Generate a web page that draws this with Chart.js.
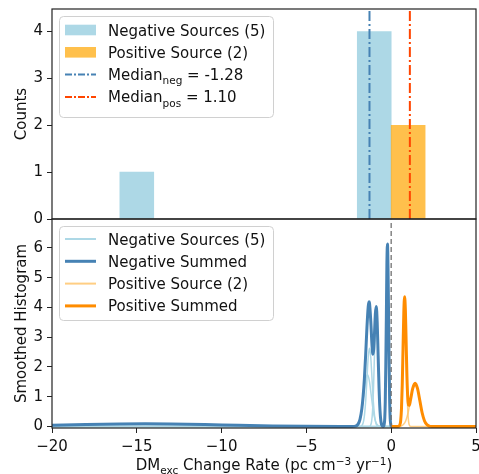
<!DOCTYPE html>
<html>
<head>
<meta charset="utf-8">
<script src="https://cdn.jsdelivr.net/npm/chart.js@4.4.1/dist/chart.umd.min.js"></script>
<style>
  html, body { margin: 0; padding: 0; background: #fff; }
  #wrap { position: relative; width: 479px; height: 474px; overflow: hidden; }
  canvas { position: absolute; left: 0; }
</style>
</head>
<body>
<div id="wrap">
  <canvas id="topPanel" width="479" height="228" style="top:0px"></canvas>
  <canvas id="bottomPanel" width="479" height="264" style="top:210px"></canvas>
</div>
<script>
// ---- histogram (top panel) ----
const negBinCenters = [-15, -1];
const negCounts = [1, 4];
const posBinCenters = [1];
const posCounts = [2];
const medianNeg = -1.28;
const medianPos = 1.10;

// ---- smoothed curves (bottom panel) ----
const negSrcAX = [-20, -18, -16, -14.5, -13, -11, -9, -7, -5, -3, -1, 0];
const negSrcAY = [0.041, 0.066, 0.085, 0.09, 0.085, 0.066, 0.041, 0.021, 0.009, 0.003, 0.001, 0];
const negSrcBX = [-20, -2.2, -2.06, -1.95, -1.84, -1.73, -1.62, -1.51, -1.40, -1.29, -1.18, -1.07, -0.96, -0.85, -0.74, -0.6, 0];
const negSrcBY = [0, 0, 0.02, 0.08, 0.24, 0.57, 1.06, 1.54, 1.75, 1.54, 1.06, 0.57, 0.24, 0.08, 0.02, 0, 0];
const negSrcCX = [-20, -1.85, -1.73, -1.655, -1.58, -1.505, -1.43, -1.355, -1.28, -1.205, -1.13, -1.055, -0.98, -0.905, -0.83, -0.7, 0];
const negSrcCY = [0, 0, 0.03, 0.12, 0.36, 0.85, 1.6, 2.32, 2.63, 2.32, 1.6, 0.85, 0.36, 0.12, 0.03, 0, 0];
const negSrcDX = [-20, -1.3, -1.21, -1.155, -1.10, -1.045, -0.99, -0.935, -0.88, -0.825, -0.77, -0.715, -0.66, -0.605, -0.55, -0.46, 0];
const negSrcDY = [0, 0, 0.04, 0.17, 0.52, 1.25, 2.34, 3.40, 3.85, 3.40, 2.34, 1.25, 0.52, 0.17, 0.04, 0, 0];
const negSrcEX = [-20, -0.48, -0.415, -0.38, -0.35, -0.32, -0.285, -0.255, -0.22, -0.19, -0.155, -0.12, -0.09, -0.06, -0.025, 0];
const negSrcEY = [0, 0, 0.07, 0.27, 0.83, 1.99, 3.72, 5.41, 6.13, 5.41, 3.72, 1.99, 0.83, 0.27, 0.07, 0];
const negSumX = [-20, -18, -16, -14.5, -13, -11, -9, -7, -5, -3, -2.3, -2.1, -1.95, -1.84, -1.73, -1.655, -1.58, -1.505, -1.43,
  -1.355, -1.31, -1.28, -1.205, -1.13, -1.08, -1.03, -0.99, -0.935, -0.88, -0.825, -0.77, -0.715, -0.66, -0.605, -0.55, -0.50,
  -0.45, -0.415, -0.38, -0.35, -0.32, -0.285, -0.255, -0.22, -0.19, -0.155, -0.12, -0.09, -0.06, -0.025, 0];
const negSumY = [0.041, 0.066, 0.085, 0.09, 0.085, 0.066, 0.041, 0.021, 0.009, 0.003, 0.002, 0.013, 0.08, 0.24, 0.60, 1.02, 1.61, 2.41, 3.33,
  4.03, 4.19, 4.15, 3.55, 2.71, 2.43, 2.61, 3.06, 3.78, 4.03, 3.49, 2.38, 1.27, 0.53, 0.17, 0.04, 0.01,
  0.014, 0.07, 0.27, 0.83, 1.99, 3.72, 5.41, 6.13, 5.41, 3.72, 1.99, 0.83, 0.27, 0.07, 0];
const posSrcAX = [0, 0.42, 0.514, 0.56, 0.606, 0.652, 0.698, 0.744, 0.79, 0.836, 0.882, 0.928, 0.974, 1.02, 1.066, 1.16, 5];
const posSrcAY = [0, 0, 0.05, 0.19, 0.58, 1.38, 2.58, 3.75, 4.25, 3.75, 2.58, 1.38, 0.58, 0.19, 0.05, 0, 0];
const posSrcBX = [0, 0.45, 0.59, 0.72, 0.86, 1.0, 1.135, 1.27, 1.41, 1.55, 1.685, 1.82, 1.96, 2.1, 2.235, 2.4, 5];
const posSrcBY = [0, 0.002, 0.016, 0.064, 0.196, 0.47, 0.88, 1.28, 1.45, 1.28, 0.88, 0.47, 0.196, 0.064, 0.016, 0.003, 0];
const posSumX = [0, 0.4, 0.514, 0.56, 0.606, 0.652, 0.698, 0.744, 0.79, 0.836, 0.882, 0.928, 0.974, 1.02, 1.066, 1.135,
  1.27, 1.41, 1.55, 1.685, 1.82, 1.96, 2.1, 2.235, 2.4, 5];
const posSumY = [0, 0.003, 0.06, 0.20, 0.60, 1.41, 2.63, 3.83, 4.36, 3.91, 2.81, 1.69, 0.99, 0.72, 0.71, 0.88,
  1.28, 1.45, 1.28, 0.88, 0.47, 0.196, 0.064, 0.016, 0.003, 0];

const xTicks = [-20, -15, -10, -5, 0, 5];
const topYTicks = [0, 1, 2, 3, 4];
const bottomYTicks = [0, 1, 2, 3, 4, 5, 6];

const X_MIN = -20, X_MAX = 5;
const TOP_MAX = 4.48;
const BOT_MIN = -0.05, BOT_MAX = 6.97;

const FONT = 'DejaVu Sans';
const FS = 15;
const TEXT = '#111';
const STEEL = '#4682b4';
const DARKORANGE = '#ff8c00';
const ORANGERED = '#ff4500';
const LIGHTBLUE = '#add8e6';
const BAR_ORANGE = 'rgba(255,165,0,0.7)';
const LIGHT_ORANGE = 'rgba(255,190,90,0.75)';

function pts(xs, ys) {
  return xs.map((x, i) => ({x: x, y: ys[i]}));
}

function minusSign(v) {
  return v < 0 ? '\u2212' + Math.abs(v) : '' + v;
}

// draws text pieces; mode 0 normal, 1 subscript, 2 superscript
function drawRich(ctx, parts, x, y, size, align) {
  const fontFor = m => (m ? size * 0.7 : size) + 'px "' + FONT + '"';
  let total = 0;
  parts.forEach(p => { ctx.font = fontFor(p[1]); total += ctx.measureText(p[0]).width; });
  if (align === 'center') x -= total / 2;
  ctx.textAlign = 'left';
  ctx.textBaseline = 'alphabetic';
  ctx.fillStyle = TEXT;
  parts.forEach(p => {
    ctx.font = fontFor(p[1]);
    let dy = 0;
    if (p[1] === 1) dy = size * 0.28;
    if (p[1] === 2) dy = -size * 0.36;
    ctx.fillText(p[0], x, y + dy);
    x += ctx.measureText(p[0]).width;
  });
}

const framePlugin = {
  id: 'frame',
  afterDraw(chart) {
    const a = chart.chartArea, ctx = chart.ctx;
    ctx.save();
    ctx.strokeStyle = '#222';
    ctx.lineWidth = 1.2;
    ctx.strokeRect(a.left, a.top, a.right - a.left, a.bottom - a.top);
    ctx.restore();
  }
};

function makeLegend(cfg) {
  return {
    id: 'richLegend',
    afterDraw(chart) {
      const ctx = chart.ctx, a = chart.chartArea;
      const bx = a.left + 7, by = a.top + 7;
      ctx.save();
      ctx.beginPath();
      ctx.roundRect(bx + 0.5, by + 0.5, cfg.w, cfg.h, 4);
      ctx.fillStyle = 'rgba(255,255,255,0.85)';
      ctx.fill();
      ctx.strokeStyle = '#d0d0d0';
      ctx.lineWidth = 1;
      ctx.stroke();
      cfg.rows.forEach((r, i) => {
        const cy = by + cfg.first + i * cfg.rowH;
        const sx = bx + 6, ex = bx + 37;
        if (r.kind === 'box') {
          ctx.fillStyle = r.color;
          ctx.fillRect(sx, cy - 5.3, ex - sx, 10.6);
        } else {
          ctx.strokeStyle = r.color;
          ctx.lineWidth = r.width;
          ctx.setLineDash(r.dash || []);
          ctx.beginPath();
          ctx.moveTo(sx, cy);
          ctx.lineTo(ex, cy);
          ctx.stroke();
          ctx.setLineDash([]);
        }
        drawRich(ctx, r.parts, bx + 49, cy + 5.5, FS, 'left');
      });
      ctx.restore();
    }
  };
}

const xTitlePlugin = {
  id: 'xTitle',
  afterDraw(chart) {
    const a = chart.chartArea;
    drawRich(chart.ctx, [['DM', 0], ['exc', 1], [' Change Rate (pc cm', 0], ['\u22123', 2], [' yr', 0], ['\u22121', 2], [')', 0]],
      (a.left + a.right) / 2, a.bottom + 42, FS, 'center');
  }
};

function yAxis(min, max, tickVals, title) {
  return {
    min: min, max: max,
    afterBuildTicks: s => { s.ticks = tickVals.map(v => ({value: v})); },
    afterFit: s => { s.width = 52; s.paddingTop = 0; s.paddingBottom = 0; },
    grid: {drawOnChartArea: false, tickLength: 5, color: '#222', lineWidth: 1},
    border: {display: false},
    ticks: {font: {family: FONT, size: FS}, color: TEXT, padding: 4},
    title: {display: true, text: title, font: {family: FONT, size: FS}, color: TEXT, padding: {top: 13, bottom: 0}}
  };
}

// ---- top panel ----
new Chart(document.getElementById('topPanel'), {
  type: 'bar',
  data: {
    datasets: [
      {type: 'line', data: pts([medianNeg, medianNeg], [0, TOP_MAX]), borderColor: STEEL, borderWidth: 2,
        borderDash: [10, 3, 2, 3], pointRadius: 0, order: 0},
      {type: 'line', data: pts([medianPos, medianPos], [0, TOP_MAX]), borderColor: ORANGERED, borderWidth: 2,
        borderDash: [10, 3, 2, 3], pointRadius: 0, order: 0},
      {label: 'Negative Sources (5)', data: pts(negBinCenters, negCounts), backgroundColor: LIGHTBLUE,
        grouped: false, barPercentage: 1, categoryPercentage: 1, order: 2},
      {label: 'Positive Source (2)', data: pts(posBinCenters, posCounts), backgroundColor: BAR_ORANGE,
        grouped: false, barPercentage: 1, categoryPercentage: 1, order: 1}
    ]
  },
  options: {
    responsive: false,
    animation: false,
    layout: {padding: {left: 0, right: 3, top: 9, bottom: 9}},
    plugins: {legend: {display: false}, tooltip: {enabled: false}},
    scales: {
      x: {type: 'linear', min: X_MIN, max: X_MAX, offset: false, display: false},
      y: yAxis(0, TOP_MAX, topYTicks, 'Counts')
    }
  },
  plugins: [framePlugin, makeLegend({
    w: 214, h: 101, first: 14, rowH: 22.3,
    rows: [
      {kind: 'box', color: LIGHTBLUE, parts: [['Negative Sources (5)', 0]]},
      {kind: 'box', color: BAR_ORANGE, parts: [['Positive Source (2)', 0]]},
      {kind: 'line', color: STEEL, width: 2, dash: [7, 2, 2, 2], parts: [['Median', 0], ['neg', 1], [' = -1.28', 0]]},
      {kind: 'line', color: ORANGERED, width: 2, dash: [7, 2, 2, 2], parts: [['Median', 0], ['pos', 1], [' = 1.10', 0]]}
    ]
  })]
});

// ---- bottom panel ----
function thin(xs, ys, color) {
  return {data: pts(xs, ys), borderColor: color, borderWidth: 1.5, pointRadius: 0,
    cubicInterpolationMode: 'monotone', order: 3};
}

new Chart(document.getElementById('bottomPanel'), {
  type: 'line',
  data: {
    datasets: [
      {data: pts([0, 0], [BOT_MIN, BOT_MAX]), borderColor: 'rgba(110,110,110,0.85)', borderWidth: 1.5,
        borderDash: [5, 3], pointRadius: 0, order: 0},
      thin(negSrcAX, negSrcAY, LIGHTBLUE),
      thin(negSrcBX, negSrcBY, LIGHTBLUE),
      thin(negSrcCX, negSrcCY, LIGHTBLUE),
      thin(negSrcDX, negSrcDY, LIGHTBLUE),
      thin(negSrcEX, negSrcEY, LIGHTBLUE),
      {data: pts(negSumX, negSumY), borderColor: STEEL, borderWidth: 3, pointRadius: 0,
        cubicInterpolationMode: 'monotone', order: 2},
      thin(posSrcAX, posSrcAY, LIGHT_ORANGE),
      thin(posSrcBX, posSrcBY, LIGHT_ORANGE),
      {data: pts(posSumX, posSumY), borderColor: DARKORANGE, borderWidth: 3, pointRadius: 0,
        cubicInterpolationMode: 'monotone', order: 1}
    ]
  },
  options: {
    responsive: false,
    animation: false,
    layout: {padding: {left: 0, right: 3, top: 9, bottom: 0}},
    plugins: {legend: {display: false}, tooltip: {enabled: false}},
    scales: {
      x: {
        type: 'linear', min: X_MIN, max: X_MAX,
        afterBuildTicks: s => { s.ticks = xTicks.map(v => ({value: v})); },
        afterFit: s => { s.height = 46; s.paddingLeft = 0; s.paddingRight = 0; },
        grid: {drawOnChartArea: false, tickLength: 5, color: '#222', lineWidth: 1},
        border: {display: false},
        ticks: {font: {family: FONT, size: FS}, color: TEXT, padding: 5, maxRotation: 0,
          callback: v => minusSign(v)}
      },
      y: yAxis(BOT_MIN, BOT_MAX, bottomYTicks, 'Smoothed Histogram')
    }
  },
  plugins: [framePlugin, xTitlePlugin, makeLegend({
    w: 214, h: 94, first: 13, rowH: 22.3,
    rows: [
      {kind: 'line', color: LIGHTBLUE, width: 2, parts: [['Negative Sources (5)', 0]]},
      {kind: 'line', color: STEEL, width: 3, parts: [['Negative Summed', 0]]},
      {kind: 'line', color: LIGHT_ORANGE, width: 2, parts: [['Positive Source (2)', 0]]},
      {kind: 'line', color: DARKORANGE, width: 3, parts: [['Positive Summed', 0]]}
    ]
  })]
});
</script>
</body>
</html>
